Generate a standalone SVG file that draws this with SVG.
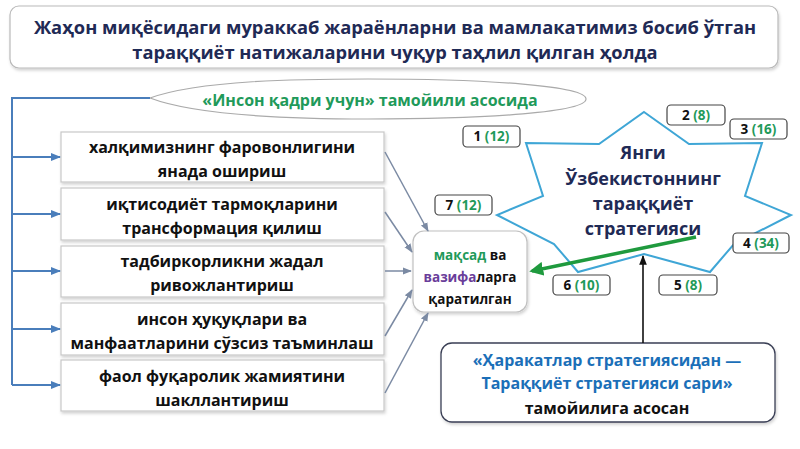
<svg xmlns="http://www.w3.org/2000/svg" width="800" height="449" viewBox="0 0 800 449">
<defs>
<filter id="sh" x="-10%" y="-10%" width="120%" height="130%">
<feDropShadow dx="1" dy="2" stdDeviation="1.5" flood-color="#000" flood-opacity="0.18"/>
</filter>
<marker id="ag" viewBox="0 0 10 10" refX="9" refY="5" markerWidth="6" markerHeight="6" orient="auto-start-reverse">
<path d="M0,1 L10,5 L0,9 z" fill="#7b8aa3"/>
</marker>
<marker id="ab" viewBox="0 0 10 10" refX="9" refY="5" markerWidth="5" markerHeight="5" orient="auto">
<path d="M0,1 L10,5 L0,9 z" fill="#4a7ebb"/>
</marker>
<marker id="agr" viewBox="0 0 10 10" refX="8" refY="5" markerWidth="4" markerHeight="4" orient="auto">
<path d="M0,0 L10,5 L0,10 z" fill="#1f9a3e"/>
</marker>
<marker id="ak" viewBox="0 0 10 10" refX="9" refY="5" markerWidth="6" markerHeight="6" orient="auto">
<path d="M0,1 L10,5 L0,9 z" fill="#111"/>
</marker>
</defs>
<style>
text{font-family:"Open Sans","Noto Sans","DejaVu Sans",sans-serif;font-weight:bold;text-anchor:middle}
.box{fill:#fff;stroke:#c8c8c8;stroke-width:1.2}
.t{font-size:16px;fill:#111}
.navy{fill:#1f2a55}
.g{fill:#1f9a5a}
.num{fill:#fff;stroke:#444;stroke-width:1.2}
.n{font-size:13.5px;fill:#111}
.gray{stroke:#7b8aa3;stroke-width:1.5;fill:none;marker-end:url(#ag)}
.blue{stroke:#4a7ebb;stroke-width:2;fill:none}
</style>
<rect width="800" height="449" fill="#fff"/>

<g id="title">
<rect x="10" y="6" width="768" height="62" rx="9" fill="#fff" stroke="#b9b9b9" stroke-width="1.2" filter="url(#sh)"/>
<text x="395" y="34" font-size="18.3" class="navy">Жаҳон миқёсидаги мураккаб жараёнларни ва мамлакатимиз босиб ўтган</text>
<text x="395" y="59" font-size="18.3" class="navy">тараққиёт натижаларини чуқур таҳлил қилган ҳолда</text>
</g>

<g id="principle">
<path d="M150,98 C200,80 300,79 368,79 C490,79 586,86 586,99 C586,112 490,119 368,119 C300,119 200,117 150,98 Z" fill="#fff" stroke="#aaaaaa" stroke-width="1.2"/>
<text x="370" y="106" font-size="16" class="g">«Инсон қадри учун» тамойили асосида</text>
</g>

<g id="box1">
<rect class="box" x="61" y="132" width="323" height="50" filter="url(#sh)"/>
<text class="t" x="222" y="153">халқимизнинг фаровонлигини</text>
<text class="t" x="222" y="177">янада ошириш</text>
</g>
<g id="box2">
<rect class="box" x="61" y="188" width="323" height="52" filter="url(#sh)"/>
<text class="t" x="222" y="210">иқтисодиёт тармоқларини</text>
<text class="t" x="222" y="234">трансформация қилиш</text>
</g>
<g id="box3">
<rect class="box" x="61" y="246" width="323" height="51" filter="url(#sh)"/>
<text class="t" x="222" y="267">тадбиркорликни жадал</text>
<text class="t" x="222" y="291">ривожлантириш</text>
</g>
<g id="box4">
<rect class="box" x="61" y="303" width="323" height="52" filter="url(#sh)"/>
<text class="t" x="222" y="325">инсон ҳуқуқлари ва</text>
<text class="t" x="222" y="349">манфаатларини сўзсиз таъминлаш</text>
</g>
<g id="box5">
<rect class="box" x="61" y="360" width="323" height="51" filter="url(#sh)"/>
<text class="t" x="222" y="382">фаол фуқаролик жамиятини</text>
<text class="t" x="222" y="406">шакллантириш</text>
</g>

<g id="goal">
<rect x="413" y="231" width="114" height="81" rx="11" fill="#fff" stroke="#c0c0c0" stroke-width="1.2" filter="url(#sh)"/>
<text x="470" y="260" font-size="13.5" fill="#111"><tspan fill="#1f9a5a">мақсад</tspan> ва</text>
<text x="470" y="282" font-size="13.5" fill="#111"><tspan fill="#6a3d9a">вазифа</tspan>ларга</text>
<text x="470" y="304" font-size="13.5" fill="#111">қаратилган</text>
</g>

<g id="star">
<polygon points="644,112 689,144 762,143 745,196 791,215 734,244 710,272 644,254 578,272 554,244 497,215 543,196 526,143 599,144" fill="#fff" stroke="#3fa6d6" stroke-width="2"/>
<text x="643" y="159" font-size="18" class="navy">Янги</text>
<text x="643" y="185" font-size="18" class="navy">Ўзбекистоннинг</text>
<text x="643" y="210" font-size="18" class="navy">тараққиёт</text>
<text x="643" y="235" font-size="18" class="navy">стратегияси</text>
</g>

<g id="n1"><rect class="num" x="463" y="126" width="57" height="21" rx="4"/><text class="n" x="491.5" y="141">1 <tspan class="g">(12)</tspan></text></g>
<g id="n2"><rect class="num" x="667" y="105" width="58" height="20" rx="4"/><text class="n" x="696" y="120">2 <tspan class="g">(8)</tspan></text></g>
<g id="n3"><rect class="num" x="730" y="119" width="57" height="20" rx="4"/><text class="n" x="758.5" y="134">3 <tspan class="g">(16)</tspan></text></g>
<g id="n4"><rect class="num" x="733" y="233" width="56" height="20" rx="4"/><text class="n" x="761" y="248">4 <tspan class="g">(34)</tspan></text></g>
<g id="n5"><rect class="num" x="659" y="275" width="58" height="20" rx="4"/><text class="n" x="688" y="290">5 <tspan class="g">(8)</tspan></text></g>
<g id="n6"><rect class="num" x="553" y="275" width="57" height="20" rx="4"/><text class="n" x="581.5" y="290">6 <tspan class="g">(10)</tspan></text></g>
<g id="n7"><rect class="num" x="435" y="195" width="57" height="20" rx="4"/><text class="n" x="463.5" y="210">7 <tspan class="g">(12)</tspan></text></g>

<g id="basis">
<rect x="441" y="343" width="334" height="79" rx="11" fill="#fff" stroke="#3a3f55" stroke-width="1.3" filter="url(#sh)"/>
<text x="607" y="366" font-size="16" fill="#1b6fb8">«Ҳаракатлар стратегиясидан —</text>
<text x="607" y="389" font-size="16" fill="#1b6fb8">Тараққиёт стратегияси сари»</text>
<text x="607" y="414" font-size="16" fill="#111">тамойилига асосан</text>
</g>

<g id="connectors">
<path class="blue" d="M150,98 H12 V385"/>
<line class="blue" x1="12" y1="157" x2="60" y2="157" marker-end="url(#ab)"/>
<line class="blue" x1="12" y1="214" x2="60" y2="214" marker-end="url(#ab)"/>
<line class="blue" x1="12" y1="271" x2="60" y2="271" marker-end="url(#ab)"/>
<line class="blue" x1="12" y1="329" x2="60" y2="329" marker-end="url(#ab)"/>
<line class="blue" x1="12" y1="385" x2="60" y2="385" marker-end="url(#ab)"/>
<line class="gray" x1="385" y1="152" x2="428" y2="231"/>
<line class="gray" x1="385" y1="212" x2="412" y2="252"/>
<line class="gray" x1="385" y1="271" x2="411" y2="271"/>
<line class="gray" x1="385" y1="336" x2="412" y2="290"/>
<line class="gray" x1="385" y1="393" x2="428" y2="313"/>
<line x1="696" y1="237" x2="532" y2="271" stroke="#1f9a3e" stroke-width="3.5" marker-end="url(#agr)"/>
<line x1="643" y1="343" x2="643" y2="256" stroke="#111" stroke-width="1.6" marker-end="url(#ak)"/>
</g>
</svg>
